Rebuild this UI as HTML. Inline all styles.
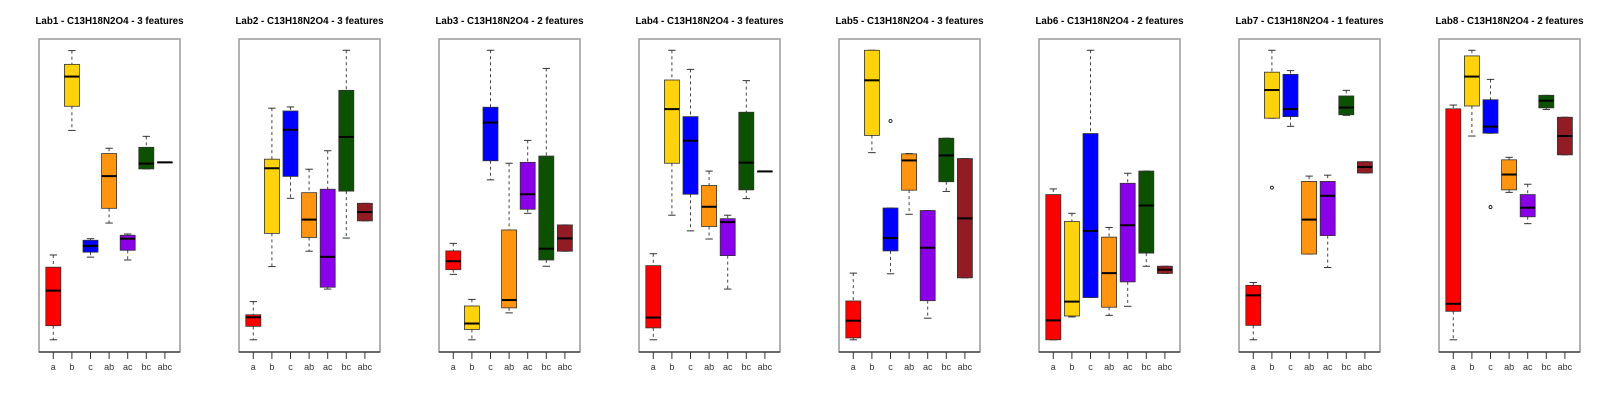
<!DOCTYPE html>
<html><head><meta charset="utf-8"><style>
html,body{margin:0;padding:0;background:#fff;}
svg{display:block;}
</style></head><body>
<svg id="chart" width="1600" height="400" xmlns="http://www.w3.org/2000/svg" style="font-family:'Liberation Sans',sans-serif"></svg>
<script>
// categories and colors
const categories = ["a","b","c","ab","ac","bc","abc"];
const colors = ["#FF0000","#FFD30A","#0000FF","#FF9410","#8A00E8","#0B5100","#921C24"];
const titles = ["Lab1 - C13H18N2O4 - 3 features","Lab2 - C13H18N2O4 - 3 features","Lab3 - C13H18N2O4 - 2 features","Lab4 - C13H18N2O4 - 3 features","Lab5 - C13H18N2O4 - 3 features","Lab6 - C13H18N2O4 - 2 features","Lab7 - C13H18N2O4 - 1 features","Lab8 - C13H18N2O4 - 2 features"];
// each: [lo, q1, median, q3, hi] per category (value in 0..100 range of plot)
const lab1 = [[3.9,8.4,19.6,27.1,31.0],[70.8,78.5,88.0,91.9,96.3],[30.3,31.9,33.9,35.7,36.2],[41.2,45.9,56.2,63.4,65.1],[29.4,32.5,36.2,37.3,37.7],[58.5,58.5,60.2,65.4,68.9],[60.6,60.6,60.6,60.6,60.6]];
const lab2 = [[3.9,8.2,11.1,11.9,16.1],[27.3,37.9,58.7,61.6,77.9],[49.1,56.1,71.0,77.0,78.3],[32.2,36.6,42.3,50.9,58.4],[20.1,20.7,30.4,52.0,64.3],[36.4,51.4,68.7,83.6,96.4],[41.9,41.9,44.7,47.5,47.5]];
const lab3 = [[24.8,26.3,29.0,32.3,34.7],[3.9,7.2,9.1,14.7,16.8],[55.0,61.1,73.3,78.2,96.4],[12.5,14.1,16.6,39.0,60.3],[44.3,45.6,50.4,60.6,67.6],[27.4,29.4,33.0,62.6,90.6],[32.2,32.2,36.3,40.6,40.6]];
const lab4 = [[3.9,7.7,11.0,27.6,31.4],[43.7,60.3,77.6,86.9,96.4],[38.7,50.4,67.5,75.2,90.3],[36.1,40.1,46.4,53.2,57.8],[20.1,30.8,41.5,42.6,43.7],[49.0,51.8,60.5,76.6,86.7],[57.7,57.7,57.7,57.7,57.7]];
const lab5 = [[3.9,4.5,10.0,16.3,25.2],[63.7,69.2,86.8,96.4,96.4],[25.0,32.3,36.4,46.0,46.0],[44.0,51.7,61.2,63.3,63.4],[10.8,16.4,33.3,45.2,45.2],[51.3,54.4,62.8,68.3,68.3],[23.7,23.7,42.7,61.8,61.8]];
const lab6 = [[3.9,3.9,10.1,50.3,52.1],[11.2,11.5,16.1,41.7,44.3],[17.4,17.4,38.7,69.8,96.4],[11.7,14.3,25.2,36.7,39.8],[14.6,22.4,40.5,53.9,57.1],[27.4,31.6,46.8,57.8,57.8],[25.1,25.1,26.3,27.4,27.4]];
const lab7 = [[3.9,8.5,18.1,21.3,22.2],[74.7,74.7,83.7,89.4,96.4],[72.1,75.2,77.6,88.7,89.9],[31.3,31.3,42.3,54.5,56.2],[27.0,37.2,49.9,54.5,56.5],[75.6,75.8,78.1,81.8,83.6],[57.2,57.2,59.1,60.8,60.8]];
const lab8 = [[3.9,13.0,15.4,77.7,78.9],[69.0,78.6,88.0,94.6,96.4],[69.9,69.9,72.0,80.6,87.1],[51.0,51.8,56.7,61.4,62.2],[41.0,43.2,46.1,50.3,53.6],[77.5,78.0,80.3,82.0,82.0],[63.0,63.0,69.0,75.0,75.0]];
// outliers: [panelIndex, categoryIndex, value]
const outliers = [[4,2,73.8],[6,1,52.5],[7,2,46.3]];
const labs = [lab1,lab2,lab3,lab4,lab5,lab6,lab7,lab8];

const NS="http://www.w3.org/2000/svg";
const svg=document.getElementById('chart');
const TOP=39, BOT=352, W=141;
function yScale(v){return BOT - v*(BOT-TOP)/100;}
function xScale(p,i){return 39+200*p+14.3+18.6*i;}
function mk(tag,attrs,parent){const e=document.createElementNS(NS,tag);for(const k in attrs)e.setAttribute(k,attrs[k]);(parent||svg).appendChild(e);return e;}

labs.forEach((lab,p)=>{
  const g=mk('g',{});
  
  
  const left=39+200*p;
  const t=mk('text',{x:left+W/2,y:24,'text-anchor':'middle','font-size':'9.8','font-weight':'bold',fill:'#000'},g);
  t.textContent=titles[p];
  
  
  const fr=mk('rect',{x:left,y:TOP,width:W,height:BOT-TOP,fill:'none',stroke:'#999','stroke-width':1.5},g);
  
  
  const ax=mk('line',{x1:left,x2:left+W,y1:BOT,y2:BOT,stroke:'#333','stroke-width':1.2},g);
  
  
  lab.forEach((s,i)=>{
    const cx=xScale(p,i);
    const tk=mk('line',{x1:cx,x2:cx,y1:BOT,y2:BOT+7,stroke:'#333','stroke-width':1},g);
    
    
    const lb=mk('text',{x:cx,y:370,'text-anchor':'middle','font-size':'9',fill:'#333'},g);
    lb.textContent=categories[i];
    
    
    const bg=mk('g',{},g);
    
    
    const [lo,q1,md,q3,hi]=s;
    mk('line',{x1:cx,x2:cx,y1:yScale(hi),y2:yScale(q3),stroke:'#444','stroke-dasharray':'3,3','stroke-width':1},bg);
    mk('line',{x1:cx,x2:cx,y1:yScale(q1),y2:yScale(lo),stroke:'#444','stroke-dasharray':'3,3','stroke-width':1},bg);
    mk('line',{x1:cx-3.7,x2:cx+3.7,y1:yScale(hi),y2:yScale(hi),stroke:'#333','stroke-width':1},bg);
    mk('line',{x1:cx-3.7,x2:cx+3.7,y1:yScale(lo),y2:yScale(lo),stroke:'#333','stroke-width':1},bg);
    const h=Math.max(yScale(q1)-yScale(q3),0.5);
    mk('rect',{x:cx-7.5,y:yScale(q3),width:15,height:h,fill:colors[i],stroke:'#333','stroke-width':0.8},bg);
    mk('line',{x1:cx-7.5,x2:cx+7.5,y1:yScale(md),y2:yScale(md),stroke:'#000','stroke-width':2},bg);
  });
});
outliers.forEach(o=>{
  const c=mk('circle',{cx:xScale(o[0],o[1]),cy:yScale(o[2]),r:1.5,fill:'none',stroke:'#000','stroke-width':0.8});
  
  
});
</script>
</body></html>
